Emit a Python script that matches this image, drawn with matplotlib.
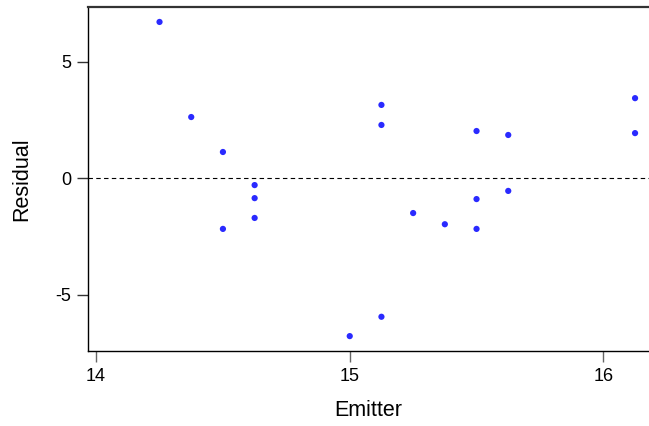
import matplotlib.pyplot as plt

plt.rcParams["font.family"] = ["Liberation Sans", "DejaVu Sans"]
plt.rcParams["axes.unicode_minus"] = False

# residuals from the emitter fit
emitter = [14.25, 14.375, 14.5, 14.5, 14.625, 14.625, 14.625, 15.0, 15.125, 15.125,
           15.125, 15.25, 15.375, 15.5, 15.5, 15.5, 15.625, 15.625, 16.125, 16.125]
residual = [6.71, 2.63, 1.13, -2.17, -0.29, -0.85, -1.70, -6.77, 3.15, 2.29,
            -5.94, -1.49, -1.97, 2.03, -0.89, -2.17, 1.86, -0.54, 3.44, 1.94]
x_ticks = [14, 15, 16]
y_ticks = [-5, 0, 5]

fig = plt.figure(figsize=(6.49, 4.26), dpi=100)
ax = fig.add_axes([0.1356, 0.176, 0.8644, 0.8064])

ax.scatter(emitter, residual, s=20, color="#2a2aff", edgecolors="none", zorder=3)
ax.axhline(0, color="black", lw=0.8, ls=(0, (4, 3)), zorder=2)

ax.set_xlim(13.968, 16.18)
ax.set_ylim(-7.41, 7.33)
ax.set_xticks(x_ticks)
ax.set_yticks(y_ticks)
ax.tick_params(axis="x", length=8, width=1, color="#666666", labelsize=13, pad=4)
ax.tick_params(axis="y", length=8, width=1, color="#333333", labelsize=13, pad=4)

ax.spines["right"].set_visible(False)
for side in ("left", "bottom"):
    ax.spines[side].set_linewidth(1.0)
ax.spines["top"].set_linewidth(1.6)
ax.spines["top"].set_color("#333333")

ax.set_xlabel("Emitter", fontsize=15.5, labelpad=11)
ax.set_ylabel("Residual", fontsize=15.5, labelpad=17)

fig.savefig("out.png", dpi=100)
